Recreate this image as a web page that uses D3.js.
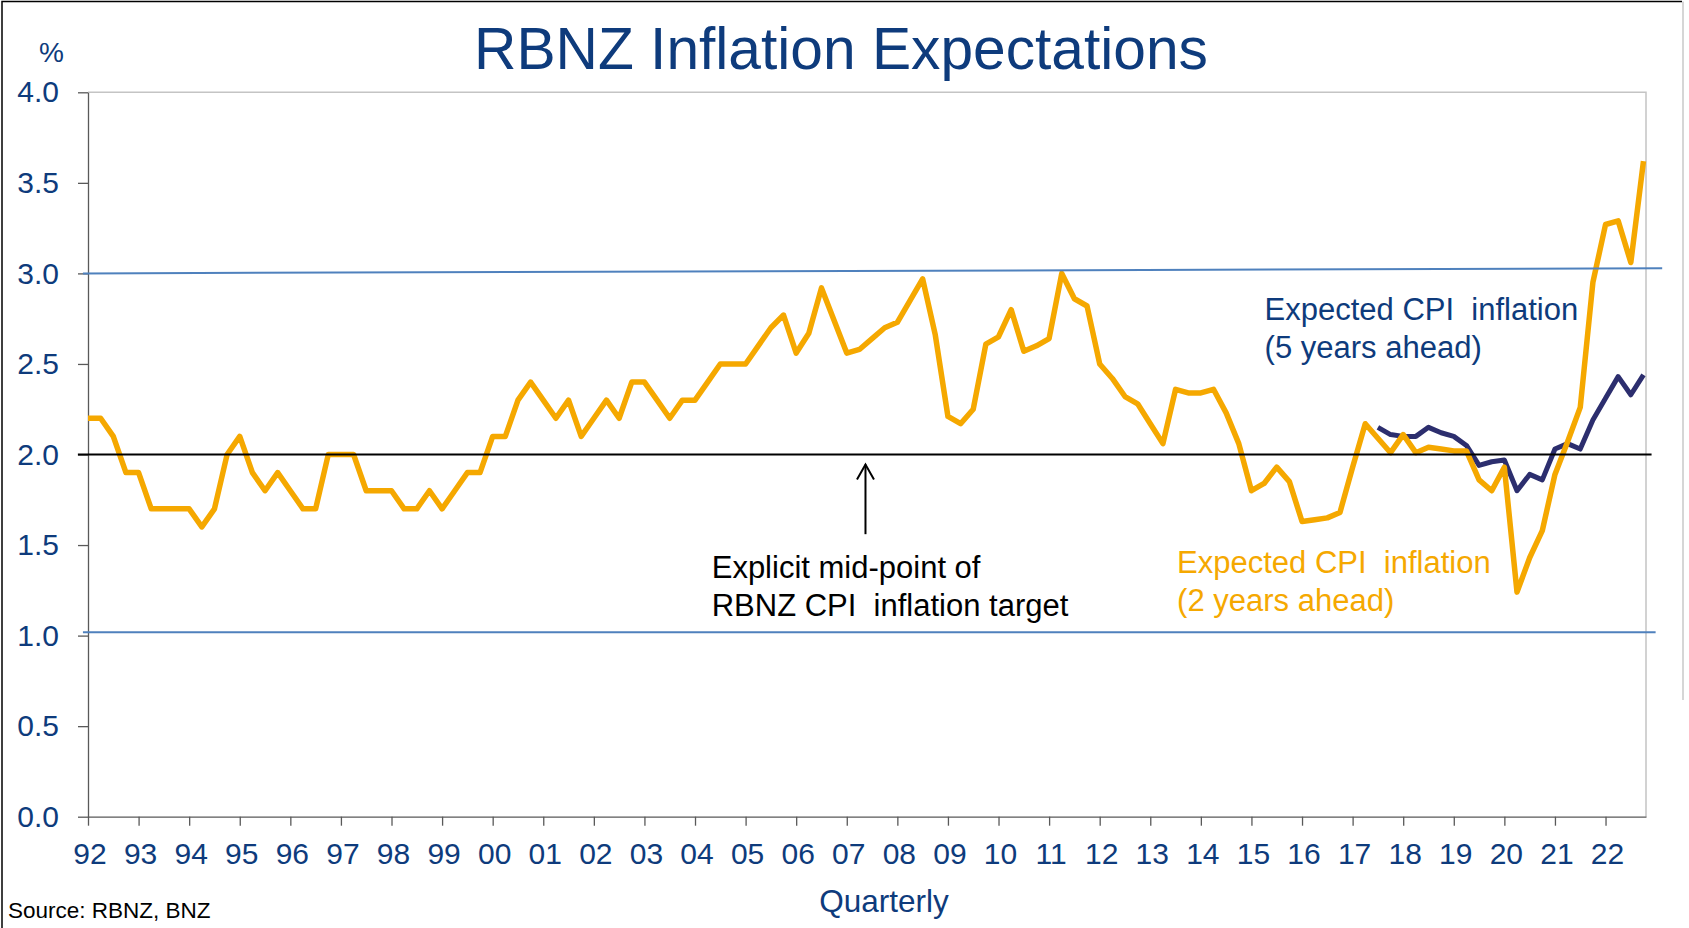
<!DOCTYPE html>
<html>
<head>
  <title>RBNZ Inflation Expectations</title>
  <script src="https://d3js.org/d3.v7.min.js"></script>
  <style>
    body { margin: 0; background: #fff; }
    svg { display: block; font-family: Arial, "Liberation Sans", sans-serif; }
    .axis text { fill: #0e3b7c; }
    .axis path, .axis line { stroke: #595959; stroke-width: 1.3px; }
    .note { white-space: pre; }
  </style>
</head>
<body>
  <svg width="1689" height="928"></svg>

  <script>
    // RBNZ survey of expectations, quarterly from Q1 1992 to Q4 2022
    const startYear = 1992;
    const yearTicks = d3.range(1992, 2023);
    const yTicks = [0, 0.5, 1, 1.5, 2, 2.5, 3, 3.5, 4];

    // expected CPI inflation, 2 years ahead (%)
    const twoYearAhead = [
      2.2, 2.2, 2.1, 1.9,   1.9, 1.7, 1.7, 1.7,   1.7, 1.6, 1.7, 2.0,   2.1, 1.9, 1.8, 1.9,
      1.8, 1.7, 1.7, 2.0,   2.0, 2.0, 1.8, 1.8,   1.8, 1.7, 1.7, 1.8,   1.7, 1.8, 1.9, 1.9,
      2.1, 2.1, 2.3, 2.4,   2.3, 2.2, 2.3, 2.1,   2.2, 2.3, 2.2, 2.4,   2.4, 2.3, 2.2, 2.3,
      2.3, 2.4, 2.5, 2.5,   2.5, 2.6, 2.7, 2.77,  2.56, 2.67, 2.92, 2.74, 2.56, 2.58, 2.64, 2.70,
      2.73, 2.85, 2.97, 2.66, 2.21, 2.17, 2.25, 2.61, 2.65, 2.80, 2.57, 2.60, 2.64, 3.00, 2.86, 2.82,
      2.50, 2.42, 2.32, 2.28, 2.17, 2.06, 2.36, 2.34, 2.34, 2.36, 2.23, 2.06, 1.80, 1.84, 1.93, 1.85,
      1.63, 1.64, 1.65, 1.68, 1.93, 2.17, 2.09, 2.01, 2.11, 2.01, 2.04, 2.03, 2.02, 2.02, 1.86, 1.80,
      1.93, 1.24, 1.43, 1.58, 1.89, 2.07, 2.26, 2.95, 3.27, 3.29, 3.06, 3.62
    ];

    // expected CPI inflation, 5 years ahead (%), from Q3 2017
    const fiveYearStart = 2017.5;
    const fiveYearAhead = [
      2.15, 2.11, 2.10, 2.10, 2.15, 2.12, 2.10, 2.05, 1.94, 1.96, 1.97, 1.80,
      1.89, 1.86, 2.03, 2.06, 2.03, 2.19, 2.31, 2.43, 2.33, 2.44
    ];

    // hand drawn target band lines (value at left end, value at right end)
    const bandLines = [
      { from: 3.0, to: 3.028, t0: 1991.9, t1: 2023.12 },
      { from: 1.018, to: 1.018, t0: 1991.9, t1: 2022.99 }
    ];
    const midPoint = { value: 2.0, t0: 1991.8, t1: 2022.91 };

    const svg = d3.select("svg");
    const navy = "#0e3b7c";
    const orange = "#f5a800";
    const purple = "#2c2e6e";

    const x = d3.scaleLinear().domain([1992, 2022.8]).range([88, 1646]);
    const y = d3.scaleLinear().domain([0, 4]).range([816.7, 92.3]);

    const two = twoYearAhead.map((v, i) => ({ t: startYear + i / 4, v }));
    const five = fiveYearAhead.map((v, i) => ({ t: fiveYearStart + i / 4, v }));

    // outer frame
    svg.append("path")
      .attr("d", "M2,928 L2,1.5 L1682,1.5")
      .attr("fill", "none").attr("stroke", "#000").attr("stroke-width", 1.5);
    svg.append("line")
      .attr("x1", 1683).attr("x2", 1683).attr("y1", 1.5).attr("y2", 700)
      .attr("stroke", "#c8c8c8").attr("stroke-width", 1.5);

    // plot area border (top and right)
    svg.append("path")
      .attr("d", `M${x(1992)},${y(4)} L${x(2022.8)},${y(4)} L${x(2022.8)},${y(0)}`)
      .attr("fill", "none").attr("stroke", "#c4c4c4").attr("stroke-width", 1.5);

    // axes
    const xAxis = svg.append("g")
      .attr("class", "axis")
      .attr("transform", `translate(0,${y(0)})`)
      .call(d3.axisBottom(x).tickValues(yearTicks)
        .tickFormat(d => String(d).slice(2))
        .tickSize(9).tickPadding(17).tickSizeOuter(0));
    xAxis.selectAll("text").attr("font-size", 30).attr("dx", 1.5);

    const yAxis = svg.append("g")
      .attr("class", "axis")
      .attr("transform", `translate(${x(1992)},0)`)
      .call(d3.axisLeft(y).tickValues(yTicks)
        .tickFormat(d3.format(".1f"))
        .tickSize(10).tickPadding(19).tickSizeOuter(0));
    yAxis.selectAll("text").attr("font-size", 30);

    const line = d3.line().x(d => x(d.t)).y(d => y(d.v));

    svg.append("path")
      .datum(five)
      .attr("d", line)
      .attr("fill", "none")
      .attr("stroke", purple)
      .attr("stroke-width", 5)
      .attr("stroke-linejoin", "round");

    svg.append("path")
      .datum(two)
      .attr("d", line)
      .attr("fill", "none")
      .attr("stroke", orange)
      .attr("stroke-width", 5.5)
      .attr("stroke-linejoin", "round");

    // target band and mid-point
    svg.selectAll(".band")
      .data(bandLines)
      .enter().append("line")
      .attr("class", "band")
      .attr("x1", d => x(d.t0)).attr("x2", d => x(d.t1))
      .attr("y1", d => y(d.from)).attr("y2", d => y(d.to))
      .attr("stroke", "#4f81bd").attr("stroke-width", 2);

    svg.append("line")
      .attr("x1", x(midPoint.t0)).attr("x2", x(midPoint.t1))
      .attr("y1", y(midPoint.value)).attr("y2", y(midPoint.value))
      .attr("stroke", "#000").attr("stroke-width", 2);

    // arrow pointing at the mid-point
    const arrow = { t: 2007.37, from: 1.56, to: 1.945 };
    svg.append("line")
      .attr("x1", x(arrow.t)).attr("x2", x(arrow.t))
      .attr("y1", y(arrow.from)).attr("y2", y(arrow.to))
      .attr("stroke", "#000").attr("stroke-width", 2);
    svg.append("path")
      .attr("d", `M${x(arrow.t) - 8.5},${y(arrow.to) + 15} L${x(arrow.t)},${y(arrow.to)} L${x(arrow.t) + 8.5},${y(arrow.to) + 15}`)
      .attr("fill", "none").attr("stroke", "#000").attr("stroke-width", 2);

    // notes
    const notes = [
      { t: 2004.33, v: 1.32, color: "#000", lines: ["Explicit mid-point of", "RBNZ CPI  inflation target"] },
      { t: 2015.26, v: 2.743, color: navy, lines: ["Expected CPI  inflation", "(5 years ahead)"] },
      { t: 2013.53, v: 1.346, color: orange, lines: ["Expected CPI  inflation", "(2 years ahead)"] }
    ];
    notes.forEach(n => {
      const txt = svg.append("text")
        .attr("class", "note")
        .attr("x", x(n.t)).attr("y", y(n.v))
        .attr("font-size", 31)
        .attr("fill", n.color);
      n.lines.forEach((l, i) => {
        txt.append("tspan")
          .attr("x", x(n.t))
          .attr("dy", i === 0 ? 0 : 38)
          .text(l);
      });
    });

    // titles
    svg.append("text")
      .attr("x", 841).attr("y", 69)
      .attr("text-anchor", "middle")
      .attr("font-size", 58.7)
      .attr("fill", navy)
      .text("RBNZ Inflation Expectations");

    svg.append("text")
      .attr("x", 39).attr("y", 61.5)
      .attr("font-size", 28)
      .attr("fill", navy)
      .text("%");

    svg.append("text")
      .attr("x", 884).attr("y", 911.5)
      .attr("text-anchor", "middle")
      .attr("font-size", 31.5)
      .attr("fill", navy)
      .text("Quarterly");

    svg.append("text")
      .attr("x", 8).attr("y", 917.5)
      .attr("font-size", 22.5)
      .attr("fill", "#000")
      .text("Source: RBNZ, BNZ");
  </script>
</body>
</html>
